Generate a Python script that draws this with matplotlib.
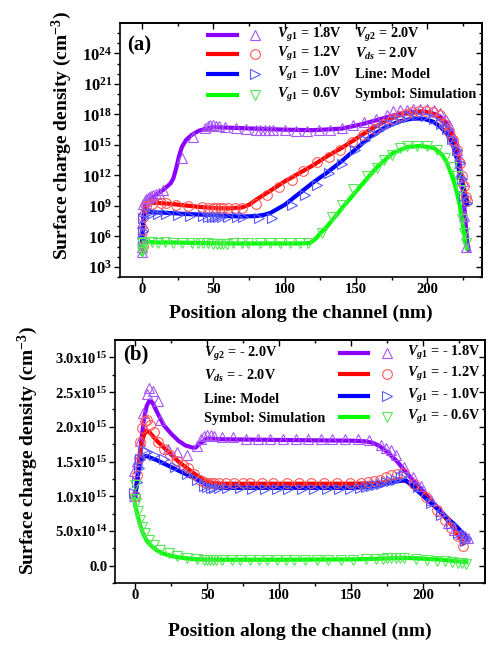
import numpy as np
import matplotlib
matplotlib.use("Agg")
import matplotlib.pyplot as plt
from matplotlib.ticker import FixedLocator, NullFormatter, FixedFormatter

plt.rcParams['font.family'] = ['Liberation Serif', 'DejaVu Serif']
plt.rcParams['font.weight'] = 'bold'
plt.rcParams['mathtext.fontset'] = 'custom'
plt.rcParams['mathtext.rm'] = 'Liberation Serif:bold'
plt.rcParams['mathtext.it'] = 'Liberation Serif:bold:italic'
plt.rcParams['mathtext.bf'] = 'Liberation Serif:bold'

# ---------------- panel (a): log10 of charge density ---------------- #
# model lines
purple_a_x = [0, 0.5, 1, 2, 4, 7, 10, 15, 20, 22, 24, 26, 28, 31, 35, 40, 45, 50, 60, 80,
              100, 120, 140, 153, 165, 176, 188, 195, 200, 205, 209, 213, 216, 219, 221, 223, 225, 226.5, 228, 229]
purple_a_y = [4.4, 6.0, 7.8, 9.0, 9.4, 9.8, 10.1, 10.6, 11.2, 11.7, 12.7, 13.9, 14.8, 15.5, 16.0, 16.4, 16.6, 16.75, 16.7, 16.6,
              16.5, 16.45, 16.6, 17.0, 17.45, 17.9, 18.25, 18.3, 18.25, 18.05, 17.8, 17.2, 16.5, 15.6, 14.8, 12.9, 10.6, 8.0, 5.5, 4.7]
red_a_x = [0, 0.5, 1, 2, 3, 5, 10, 20, 30, 40, 50, 60, 70, 75, 80, 90, 100, 110, 120, 130,
           140, 150, 160, 170, 180, 190, 197, 203, 209, 214, 218, 221, 223, 225, 227, 228]
red_a_y = [5.0, 6.3, 7.6, 8.7, 9.1, 9.3, 9.3, 9.2, 9.05, 8.9, 8.8, 8.75, 8.85, 9.1, 9.6, 10.5, 11.4, 12.2, 13.0, 13.9,
           14.7, 15.6, 16.5, 17.3, 17.9, 18.2, 18.25, 18.1, 17.6, 16.8, 15.5, 14.2, 12.5, 11.2, 10.0, 9.5]
blue_a_x = [0, 0.5, 1, 2, 3, 5, 10, 20, 30, 40, 50, 60, 70, 80, 85, 90, 95, 100, 110, 120,
            130, 140, 150, 160, 170, 180, 188, 193, 198, 204, 209, 214, 218, 221, 223, 225, 227, 228]
blue_a_y = [5.5, 6.8, 7.8, 8.3, 8.4, 8.4, 8.35, 8.3, 8.2, 8.15, 8.1, 8.0, 7.95, 8.0, 8.1, 8.3, 8.7, 9.1, 10.2, 11.3,
            12.3, 13.4, 14.6, 15.8, 16.7, 17.3, 17.55, 17.6, 17.55, 17.3, 16.8, 16.1, 15.0, 13.5, 11.9, 10.8, 9.6, 9.2]
green_a_x = [0, 0.5, 1, 2, 5, 10, 20, 40, 60, 80, 100, 110, 118, 122, 125, 130, 141, 153, 165, 176,
             186, 195, 204.5, 210, 214, 218.5, 221, 223, 225.5, 227, 228]
green_a_y = [4.3, 4.9, 5.3, 5.5, 5.45, 5.4, 5.4, 5.35, 5.3, 5.3, 5.3, 5.3, 5.35, 5.8, 6.3, 7.0, 8.9, 10.9, 12.85, 14.2,
             14.8, 14.9, 14.7, 14.1, 13.2, 11.5, 10.2, 8.9, 6.6, 5.2, 4.8]

# simulation symbols
purple_a_sx = [0, 0, 0, 0, 0.5, 1, 2, 3, 4, 5, 6, 8, 10, 12, 15, 28, 36, 44, 46, 48,
               50, 52, 54, 58, 66, 73, 80, 83, 86, 89, 92, 100, 108, 116, 124, 132, 140, 148, 156, 164,
               172, 176, 181, 186, 190, 195, 200, 205, 209, 213, 215, 217, 219, 221, 222, 223, 225, 226, 227]
purple_a_sy = [4.5, 5.0, 6.3, 7.3, 8.5, 9.2, 9.5, 9.7, 9.8, 9.9, 10.0, 10.1, 10.2, 10.3, 10.6, 13.7, 15.8, 16.7, 16.9, 16.95,
               16.95, 16.9, 16.9, 16.75, 16.7, 16.6, 16.5, 16.45, 16.5, 16.45, 16.5, 16.45, 16.4, 16.4, 16.45, 16.5, 16.7, 17.0, 17.3, 17.6,
               17.95, 18.3, 18.45, 18.45, 18.5, 18.5, 18.5, 18.4, 18.1, 17.5, 17.0, 16.3, 15.5, 14.5, 13.8, 12.2, 11.4, 8.0, 5.0]
red_a_sx = [0.5, 0.5, 0.5, 3, 7, 13, 17, 24, 32, 42, 46, 50, 52, 55, 57, 60, 65, 70, 80, 88,
            96, 105, 113, 123, 131, 139, 147, 155, 163, 169, 175, 180, 185, 189, 194, 199, 204, 209, 212, 215,
            218, 221, 223, 224.5, 226, 227, 228]
red_a_sy = [5.1, 6.6, 7.9, 9.0, 9.2, 9.3, 9.25, 9.1, 9.0, 8.85, 8.8, 8.75, 8.75, 8.75, 8.75, 8.75, 8.75, 8.8, 9.2, 10.05,
            10.9, 11.55, 12.4, 13.35, 13.85, 14.5, 15.3, 16.0, 16.6, 17.1, 17.6, 17.8, 18.0, 18.2, 18.3, 18.3, 18.2, 17.9, 17.1, 16.3,
            15.5, 14.5, 13.2, 11.9, 11.0, 9.9, 9.5]
blue_a_sx = [0.5, 0.5, 0.5, 4.4, 8, 11.4, 17, 25.5, 34, 43, 46.5, 49, 51, 53.5, 56, 60.5, 66.5, 71, 82, 91,
             105, 114, 123, 131, 140, 149.5, 156.5, 162, 166, 170, 174, 178, 182, 187, 193, 199, 205, 210, 214, 217.5,
             221, 223, 224.5, 226, 228]
blue_a_sy = [5.5, 6.5, 7.8, 8.3, 8.3, 8.25, 8.2, 8.1, 8.05, 8.0, 7.95, 7.95, 7.95, 7.95, 7.95, 7.9, 7.9, 7.9, 7.8, 7.8,
             9.1, 10.05, 11.05, 12.2, 13.1, 14.5, 15.5, 16.1, 16.5, 16.85, 17.1, 17.35, 17.6, 17.8, 17.9, 17.85, 17.6, 17.1, 16.6, 15.6,
             14.5, 13.2, 11.6, 10.0, 9.3]
green_a_sx = [0, 0, 0, 2, 6.8, 11.4, 16, 22, 28, 35, 39.5, 43, 46.5, 50, 52.4, 54.7, 57, 59.4, 64, 70,
              74.6, 82.8, 89.8, 96.8, 103.8, 110.8, 116.6, 126, 133, 140, 148, 158, 165, 169.5, 175, 181, 186, 193, 200, 207,
              212.6, 217.3, 221, 223, 224.5, 226, 227]
green_a_sy = [4.5, 4.8, 5.3, 5.45, 5.4, 5.35, 5.4, 5.3, 5.35, 5.3, 5.3, 5.3, 5.3, 5.25, 5.25, 5.25, 5.25, 5.25, 5.3, 5.3,
              5.3, 5.3, 5.3, 5.3, 5.3, 5.3, 5.3, 6.3, 7.9, 9.1, 10.7, 11.9, 12.7, 13.5, 14.0, 14.7, 14.85, 14.9, 14.85, 14.5,
              13.7, 12.8, 11.9, 10.6, 7.7, 6.3, 5.3]

# ---------------- panel (b): charge density in 1e15 cm^-3 ---------------- #
purple_b_x = [0, 2, 4, 6, 8, 10, 12, 15, 20, 25, 30, 35, 40, 42, 45, 50, 60, 100, 150, 160,
              165, 170, 175, 182, 190, 200, 210, 220, 230]
purple_b_y = [1.0, 1.35, 1.75, 2.1, 2.3, 2.38, 2.35, 2.22, 2.02, 1.9, 1.8, 1.73, 1.7, 1.7, 1.76, 1.83, 1.82, 1.81, 1.8, 1.79,
              1.77, 1.72, 1.64, 1.5, 1.3, 1.07, 0.84, 0.61, 0.38]
red_b_x = [0, 2, 4, 6, 8, 10, 15, 20, 25, 30, 35, 40, 45, 50, 55, 60, 100, 150, 170, 178,
           184, 190, 200, 210, 220, 228]
red_b_y = [1.0, 1.35, 1.7, 1.88, 1.95, 1.92, 1.8, 1.7, 1.6, 1.5, 1.42, 1.34, 1.27, 1.21, 1.19, 1.18, 1.18, 1.18, 1.19, 1.22,
           1.25, 1.2, 1.04, 0.82, 0.58, 0.32]
blue_b_x = [0, 2, 4, 6, 8, 10, 15, 20, 25, 30, 35, 40, 45, 50, 55, 60, 100, 150, 160, 170,
            178, 184, 188, 195, 205, 215, 222, 230]
blue_b_y = [1.0, 1.3, 1.5, 1.57, 1.58, 1.56, 1.52, 1.47, 1.42, 1.37, 1.32, 1.27, 1.22, 1.16, 1.13, 1.12, 1.12, 1.12, 1.13, 1.16,
            1.2, 1.22, 1.23, 1.1, 0.91, 0.72, 0.59, 0.42]
green_b_x = [-1, 0, 1, 2, 3, 4, 5, 7, 9, 12, 15, 20, 25, 30, 40, 50, 60, 100, 150, 170,
             180, 190, 200, 210, 220, 230]
green_b_y = [1.0, 0.88, 0.78, 0.7, 0.62, 0.55, 0.49, 0.4, 0.33, 0.27, 0.22, 0.17, 0.14, 0.12, 0.095, 0.085, 0.085, 0.085, 0.09, 0.1,
             0.11, 0.11, 0.1, 0.09, 0.07, 0.05]

purple_b_sx = [-1, -1, 1, 3.5, 5.5, 8, 9.5, 12.5, 16, 17.5, 23, 29, 36, 43, 45.5, 47.5, 50, 52.5, 55, 60,
               68, 77, 85, 94, 103, 111.5, 120, 129, 137, 146, 154.5, 162.5, 170.5, 174, 177.5, 181, 187, 193, 198.5, 205.5,
               211.5, 217, 221.5, 226, 229, 231]
purple_b_sy = [1.0, 1.37, 1.51, 1.8, 2.2, 2.47, 2.56, 2.51, 2.37, 2.1, 1.68, 1.64, 1.6, 1.73, 1.82, 1.87, 1.88, 1.88, 1.87, 1.86,
               1.85, 1.83, 1.83, 1.83, 1.83, 1.83, 1.83, 1.83, 1.82, 1.82, 1.82, 1.81, 1.74, 1.7, 1.66, 1.59, 1.42, 1.28, 1.14, 0.95,
               0.78, 0.62, 0.52, 0.45, 0.42, 0.4]
red_b_sx = [0, 1, 2.4, 3.5, 5, 6.5, 8, 10, 13, 16, 20, 24, 29, 33, 37, 41, 45, 47.5, 50, 52.5,
            55, 58, 63, 69, 75, 80, 88, 96, 105.5, 113.5, 122, 131, 140.5, 149, 157, 162, 166, 170, 174, 178,
            182, 186, 194, 202, 210, 215, 219.5, 224, 227.5]
red_b_sy = [1.0, 1.3, 1.55, 1.78, 1.98, 2.08, 2.1, 2.02, 1.92, 1.78, 1.68, 1.6, 1.51, 1.45, 1.4, 1.32, 1.24, 1.2, 1.19, 1.19,
            1.19, 1.19, 1.19, 1.19, 1.19, 1.19, 1.19, 1.19, 1.19, 1.19, 1.19, 1.19, 1.19, 1.19, 1.19, 1.2, 1.22, 1.24, 1.27, 1.3,
            1.32, 1.34, 1.18, 0.99, 0.8, 0.66, 0.54, 0.42, 0.28]
blue_b_sx = [-0.5, 1, 2.4, 3.5, 5.8, 8, 12.8, 19.8, 28, 36, 43, 47.5, 50, 52.5, 55, 58, 64, 73, 81, 90.5,
             98.5, 106.5, 116, 124, 133.5, 141.5, 149.5, 156, 160.5, 164, 167.5, 171, 174, 177.5, 181, 184.5, 187, 196.5, 205.5, 212.5,
             219.5, 224, 229, 230]
blue_b_sy = [1.04, 1.2, 1.4, 1.54, 1.66, 1.63, 1.59, 1.54, 1.42, 1.32, 1.23, 1.15, 1.13, 1.12, 1.12, 1.12, 1.12, 1.12, 1.11, 1.11,
             1.11, 1.11, 1.11, 1.11, 1.11, 1.11, 1.11, 1.12, 1.13, 1.14, 1.16, 1.18, 1.2, 1.22, 1.24, 1.27, 1.3, 1.13, 0.9, 0.73,
             0.6, 0.47, 0.35, 0.4]
green_b_sx = [0, 0, 0.7, 2.3, 3.5, 4.7, 7, 9.3, 12.8, 17.4, 23.2, 29, 36, 43, 48, 50, 52, 54, 56.4, 60,
              67, 73, 80, 86, 91.5, 98.5, 104.5, 110, 118, 126, 134, 143, 151, 160, 167, 172, 175, 178, 181, 184,
              187, 195, 203, 210, 215, 220, 224, 227, 229.5]
green_b_sy = [1.16, 0.96, 0.9, 0.78, 0.66, 0.56, 0.47, 0.37, 0.3, 0.23, 0.18, 0.14, 0.11, 0.09, 0.08, 0.08, 0.08, 0.08, 0.08, 0.08,
              0.08, 0.08, 0.08, 0.08, 0.08, 0.08, 0.08, 0.08, 0.08, 0.08, 0.08, 0.08, 0.08, 0.09, 0.1, 0.1, 0.11, 0.11, 0.11, 0.11,
              0.11, 0.09, 0.08, 0.07, 0.06, 0.05, 0.04, 0.04, 0.03]

gate_a = ['1.8V', '1.2V', '1.0V', '0.6V']
gate_b = ['- 1.8V', '- 1.2V', '- 1.0V', '- 0.6V']
fixed_a = [r'$\mathit{V}_{\mathit{g2}}$ = 2.0V', r'$\mathit{V}_{\mathit{ds}}$ = 2.0V', 'Line: Model', 'Symbol: Simulation']
fixed_b = [r'$\mathit{V}_{\mathit{g2}}$ = - 2.0V', r'$\mathit{V}_{\mathit{ds}}$ = - 2.0V', 'Line: Model', 'Symbol: Simulation']

line_colors = ['#8B00FF', '#FF0000', '#0000FF', '#00FF00']
sym_colors = ['#A855F7', '#FF5A5A', '#5A5AFF', '#5AE65A']
sym_markers = ['^', 'o', '>', 'v']

TICK_FS = 10.5
TEXT_FS = 10.3
LABEL_FS = 14

fig = plt.figure(figsize=(4.9, 6.45), dpi=100)
ax_a = fig.add_axes([120 / 490, 1 - 277 / 645, 362 / 490, 254 / 645])
ax_b = fig.add_axes([115 / 490, 1 - 583 / 645, 370 / 490, 243 / 645])


def frame(ax, xmaj, xmin, ymaj, ymin):
    for s in ax.spines.values():
        s.set_linewidth(1.2)
    ax.xaxis.set_major_locator(FixedLocator(xmaj))
    ax.xaxis.set_minor_locator(FixedLocator(xmin))
    ax.yaxis.set_major_locator(FixedLocator(ymaj))
    ax.yaxis.set_minor_locator(FixedLocator(ymin))
    ax.yaxis.set_minor_formatter(NullFormatter())
    ax.tick_params(which='both', direction='out', width=1.0, pad=1.5)
    ax.tick_params(which='major', length=4, labelsize=TICK_FS)
    ax.tick_params(which='minor', length=2.5)
    ax.tick_params(axis='x', which='major', pad=0.5)
    # mirrored ticks pointing inwards on top and right
    top = ax.secondary_xaxis('top')
    right = ax.secondary_yaxis('right')
    top.xaxis.set_major_locator(FixedLocator(xmaj))
    top.xaxis.set_minor_locator(FixedLocator(xmin))
    right.yaxis.set_major_locator(FixedLocator(ymaj))
    right.yaxis.set_minor_locator(FixedLocator(ymin))
    for sec in (top, right):
        sec.tick_params(which='both', direction='in', width=1.0,
                        labeltop=False, labelright=False)
        sec.tick_params(which='major', length=4.5)
        sec.tick_params(which='minor', length=2.5)
        for s in sec.spines.values():
            s.set_linewidth(1.2)
    right.yaxis.set_minor_formatter(NullFormatter())


def legend_rows(ax, x_line, x_sym, x_text, rows, labels):
    for i, y in enumerate(rows):
        ax.plot(x_line, [y, y], color=line_colors[i], lw=3, transform=ax.transAxes, clip_on=False)
        ax.plot([x_sym], [y], ls='none', marker=sym_markers[i], ms=7, mfc='none',
                mec=sym_colors[i], mew=0.8, transform=ax.transAxes, clip_on=False)
        ax.text(x_text, y, labels[i], transform=ax.transAxes, fontsize=TEXT_FS,
                fontweight='bold', va='center', ha='left')


# ---- (a) ----
lines_a = [(purple_a_x, purple_a_y), (red_a_x, red_a_y), (blue_a_x, blue_a_y), (green_a_x, green_a_y)]
syms_a = [(purple_a_sx, purple_a_sy), (red_a_sx, red_a_sy), (blue_a_sx, blue_a_sy), (green_a_sx, green_a_sy)]
for i, (x, y) in enumerate(lines_a):
    ax_a.plot(x, 10 ** np.array(y), color=line_colors[i], lw=3, zorder=2)
for i, (x, y) in enumerate(syms_a):
    ax_a.plot(x, 10 ** np.array(y), ls='none', marker=sym_markers[i], ms=7, mfc='none',
              mec=sym_colors[i], mew=0.8, zorder=3)

ax_a.set_yscale('log')
ax_a.set_xlim(-15.4, 238.4)
ax_a.set_ylim(1e2, 1e27)
frame(ax_a, [0, 50, 100, 150, 200], [25, 75, 125, 175, 225],
      [10.0 ** k for k in range(3, 25, 3)], [10.0 ** k for k in range(2, 28) if k % 3])
ax_a.tick_params(axis='y', which='major', labelsize=12)

legend_rows(ax_a, [0.243, 0.323], 0.373, 0.434, [0.953, 0.878, 0.799, 0.717],
            [r'$\mathit{V}_{\mathit{g1}}$ = ' + g for g in gate_a])
for y, t in zip([0.953, 0.878, 0.799, 0.717], fixed_a):
    ax_a.text(0.649, y, t, transform=ax_a.transAxes, fontsize=TEXT_FS, fontweight='bold',
              va='center', ha='left')
ax_a.text(0.02, 0.91, '(a)', transform=ax_a.transAxes, fontsize=15, fontweight='bold',
          va='center', ha='left')

# ---- (b) ----
lines_b = [(purple_b_x, purple_b_y), (red_b_x, red_b_y), (blue_b_x, blue_b_y), (green_b_x, green_b_y)]
syms_b = [(purple_b_sx, purple_b_sy), (red_b_sx, red_b_sy), (blue_b_sx, blue_b_sy), (green_b_sx, green_b_sy)]
for i, (x, y) in enumerate(lines_b):
    ax_b.plot(x, np.array(y) * 1e15, color=line_colors[i], lw=3, zorder=2)
for i, (x, y) in enumerate(syms_b):
    ax_b.plot(x, np.array(y) * 1e15, ls='none', marker=sym_markers[i], ms=7, mfc='none',
              mec=sym_colors[i], mew=0.8, zorder=3)

ax_b.set_xlim(-14, 243)
ax_b.set_ylim(-2.5e14, 3.25e15)
b_ticks = [0, 5e14, 1e15, 1.5e15, 2e15, 2.5e15, 3e15]
b_labels = ['0.0', r'5.0x10$^{14}$', r'1.0x10$^{15}$', r'1.5x10$^{15}$',
            r'2.0x10$^{15}$', r'2.5x10$^{15}$', r'3.0x10$^{15}$']
frame(ax_b, [0, 50, 100, 150, 200], [25, 75, 125, 175, 225],
      b_ticks, [-2.5e14, 2.5e14, 7.5e14, 1.25e15, 1.75e15, 2.25e15, 2.75e15])
ax_b.yaxis.set_major_formatter(FixedFormatter(b_labels))

legend_rows(ax_b, [0.608, 0.684], 0.735, 0.789, [0.947, 0.860, 0.770, 0.683],
            [r'$\mathit{V}_{\mathit{g1}}$ = ' + g for g in gate_b])
for y, t in zip([0.942, 0.852, 0.757, 0.675], fixed_b):
    ax_b.text(0.24, y, t, transform=ax_b.transAxes, fontsize=TEXT_FS, fontweight='bold',
              va='center', ha='left')
ax_b.text(0.022, 0.94, '(b)', transform=ax_b.transAxes, fontsize=15, fontweight='bold',
          va='center', ha='left')

# axis titles
ylab = r'Surface charge density (cm$^{-3}$)'
xlab = 'Position along the channel (nm)'
fig.text(62 / 490, 1 - 136 / 645, ylab, rotation=90, ha='center', va='center',
         fontsize=LABEL_FS, fontweight='bold')
fig.text(28 / 490, 1 - 451 / 645, ylab, rotation=90, ha='center', va='center',
         fontsize=LABEL_FS, fontweight='bold')
fig.text(301 / 490, 1 - 313 / 645, xlab, ha='center', va='center', fontsize=LABEL_FS, fontweight='bold')
fig.text(300 / 490, 1 - 631 / 645, xlab, ha='center', va='center', fontsize=LABEL_FS, fontweight='bold')

fig.savefig('out.png', dpi=100)
